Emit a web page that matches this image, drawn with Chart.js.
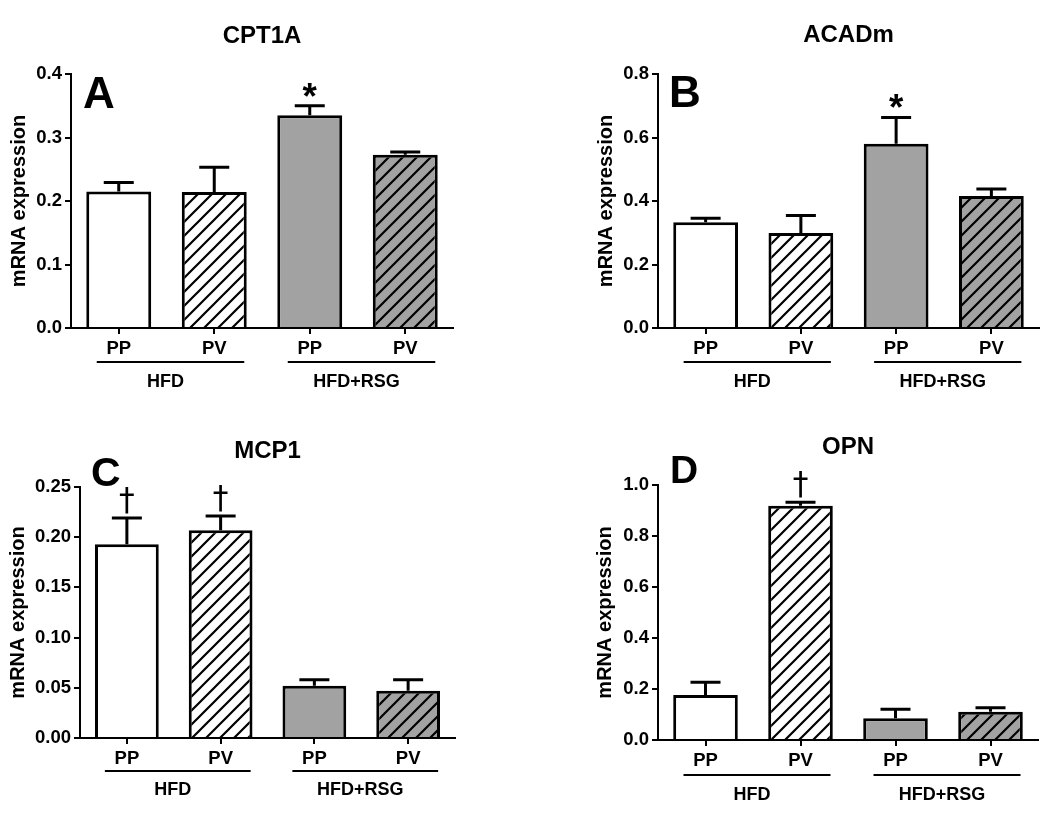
<!DOCTYPE html>
<html>
<head>
<meta charset="utf-8">
<title>mRNA expression</title>
<script src="https://cdn.jsdelivr.net/npm/chart.js@4.4.0/dist/chart.umd.min.js"></script>
<style>
    html, body { margin: 0; padding: 0; background: #fff; }
    #page { position: relative; width: 1050px; height: 823px; overflow: hidden; }
    #page canvas { position: absolute; }
</style>
</head>
<body>
<div id="page">
    <canvas id="cptChart" width="525" height="412" style="left:0;top:0"></canvas>
    <canvas id="acadChart" width="525" height="412" style="left:525px;top:0"></canvas>
    <canvas id="mcpChart" width="525" height="411" style="left:0;top:412px"></canvas>
    <canvas id="opnChart" width="525" height="411" style="left:525px;top:412px"></canvas>
</div>
<script>
// Data (bar = mean, sem = upper error bar length)
const categories = ['PP', 'PV', 'PP', 'PV'];
const groupLabels = ['HFD', 'HFD+RSG'];

const cptMeans = [0.215, 0.214, 0.335, 0.273];
const cptSem = [0.014, 0.039, 0.015, 0.004];
const cptTicks = ['0.0', '0.1', '0.2', '0.3', '0.4'];
const cptMarks = ['', '', '*', ''];

const acadMeans = [0.333, 0.299, 0.580, 0.416];
const acadSem = [0.013, 0.055, 0.083, 0.022];
const acadTicks = ['0.0', '0.2', '0.4', '0.6', '0.8'];
const acadMarks = ['', '', '*', ''];

const mcpMeans = [0.193, 0.207, 0.052, 0.047];
const mcpSem = [0.026, 0.014, 0.006, 0.011];
const mcpTicks = ['0.00', '0.05', '0.10', '0.15', '0.20', '0.25'];
const mcpMarks = ['†', '†', '', ''];

const opnMeans = [0.176, 0.919, 0.085, 0.111];
const opnSem = [0.050, 0.013, 0.036, 0.015];
const opnTicks = ['0.0', '0.2', '0.4', '0.6', '0.8', '1.0'];
const opnMarks = ['', '†', '', ''];

const FONT = "'Liberation Sans', Arial, Helvetica, sans-serif";
const GRAY = '#a2a2a2';

Chart.defaults.font.family = FONT;
Chart.defaults.font.weight = 'bold';
Chart.defaults.color = '#000';

// diagonal hatch used for the PV bars
function makeHatch(bg) {
    const size = 14;
    const tile = document.createElement('canvas');
    tile.width = size;
    tile.height = size;
    const t = tile.getContext('2d');
    t.fillStyle = bg;
    t.fillRect(0, 0, size, size);
    t.strokeStyle = '#000';
    t.lineWidth = 2.2;
    t.beginPath();
    t.moveTo(-2, size + 2); t.lineTo(size + 2, -2);
    t.moveTo(-2, 2); t.lineTo(2, -2);
    t.moveTo(size - 2, size + 2); t.lineTo(size + 2, size - 2);
    t.stroke();
    return t.createPattern(tile, 'repeat');
}

// error bars, significance marks, titles, panel letters and group lines
const panelDecor = {
    id: 'panelDecor',
    afterDatasetsDraw(chart, args, opts) {
        const ctx = chart.ctx;
        const x = chart.scales.x;
        const y = chart.scales.y;
        const means = chart.data.datasets[0].data;

        ctx.save();
        ctx.strokeStyle = '#000';
        ctx.fillStyle = '#000';
        ctx.lineWidth = 3;
        ctx.lineCap = 'butt';

        means.forEach((m, i) => {
            const cx = x.getPixelForValue(i);
            const yBar = y.getPixelForValue(m);
            const yErr = y.getPixelForValue(m + opts.sem[i]);

            ctx.beginPath();
            ctx.moveTo(cx, yBar);
            ctx.lineTo(cx, yErr);
            ctx.moveTo(cx - 15, yErr);
            ctx.lineTo(cx + 15, yErr);
            ctx.stroke();

            const mark = opts.marks[i];
            if (mark === '*') {
                drawGlyph(ctx, '*', FONT, 'bold', 14, cx, yErr - 16, 'center');
            } else if (mark === '†') {
                drawGlyph(ctx, '†', "'DejaVu Sans', sans-serif", 'normal', 26, cx, yErr - 4, 'bottom');
            }
        });
        ctx.restore();
    },
    afterDraw(chart, args, opts) {
        const ctx = chart.ctx;
        const area = chart.chartArea;
        const x = chart.scales.x;

        ctx.save();
        ctx.fillStyle = '#000';
        ctx.strokeStyle = '#000';

        // gene title
        ctx.font = 'bold 24px ' + FONT;
        ctx.textAlign = 'center';
        ctx.textBaseline = 'middle';
        ctx.fillText(opts.title, (area.left + area.right) / 2, opts.titleY);

        // panel letter
        ctx.font = 'bold ' + opts.letterSize + 'px ' + FONT;
        ctx.textAlign = 'left';
        ctx.textBaseline = 'alphabetic';
        ctx.fillText(opts.letter, opts.letterX, opts.letterBase);

        // treatment groups under the categories
        ctx.lineWidth = 2;
        ctx.font = 'bold 18px ' + FONT;
        ctx.textAlign = 'center';
        ctx.textBaseline = 'middle';
        groupLabels.forEach((label, g) => {
            const x0 = x.getPixelForValue(g * 2);
            const x1 = x.getPixelForValue(g * 2 + 1);
            const ly = area.bottom + opts.groupGap;
            ctx.beginPath();
            ctx.moveTo(x0 - 22, ly);
            ctx.lineTo(x1 + 30, ly);
            ctx.stroke();
            ctx.fillText(label, (x0 + x1) / 2 - 1, area.bottom + opts.labelGap);
        });
        ctx.restore();
    }
};

// draws a glyph scaled to a given ink height; anchor 'center' or 'bottom' at (px, py)
function drawGlyph(ctx, ch, family, weight, inkHeight, px, py, anchor) {
    ctx.font = weight + ' 100px ' + family;
    let m = ctx.measureText(ch);
    const size = 100 * inkHeight / (m.actualBoundingBoxAscent + m.actualBoundingBoxDescent);
    ctx.font = weight + ' ' + size.toFixed(1) + 'px ' + family;
    m = ctx.measureText(ch);
    ctx.textAlign = 'center';
    ctx.textBaseline = 'alphabetic';
    let base;
    if (anchor === 'center') {
        base = py - (m.actualBoundingBoxDescent - m.actualBoundingBoxAscent) / 2;
    } else {
        base = py - m.actualBoundingBoxDescent;
    }
    ctx.fillText(ch, px, base);
}

function createPanel(canvasId, panel) {
    const canvas = document.getElementById(canvasId);
    const box = panel.box;
    const tickLabels = panel.ticks;
    const yMax = parseFloat(tickLabels[tickLabels.length - 1]);

    return new Chart(canvas, {
        type: 'bar',
        data: {
            labels: categories,
            datasets: [{
                data: panel.means,
                backgroundColor: ['#fff', makeHatch('#fff'), GRAY, makeHatch(GRAY)],
                borderColor: '#000',
                borderWidth: 3,
                categoryPercentage: 0.68,
                barPercentage: 1
            }]
        },
        options: {
            responsive: false,
            animation: false,
            events: [],
            layout: {
                padding: { left: 0, top: box.top, right: canvas.width - box.right, bottom: 0 }
            },
            scales: {
                x: {
                    grid: {
                        display: true,
                        drawOnChartArea: false,
                        drawTicks: true,
                        tickLength: 6,
                        offset: false,
                        color: '#000',
                        lineWidth: 2
                    },
                    border: { display: true, color: '#000', width: 2 },
                    ticks: {
                        font: { size: 18.5, weight: 'bold' },
                        color: '#000',
                        padding: 4,
                        autoSkip: false,
                        maxRotation: 0
                    },
                    afterFit(scale) {
                        scale.height = canvas.height - box.bottom;
                    }
                },
                y: {
                    min: 0,
                    max: yMax,
                    grid: {
                        display: true,
                        drawOnChartArea: false,
                        drawTicks: true,
                        tickLength: 6,
                        color: '#000',
                        lineWidth: 2
                    },
                    border: { display: true, color: '#000', width: 2 },
                    ticks: {
                        font: { size: 18.5, weight: 'bold' },
                        color: '#000',
                        padding: 3,
                        callback: (value, index) => tickLabels[index]
                    },
                    afterBuildTicks(scale) {
                        scale.ticks = tickLabels.map(t => ({ value: parseFloat(t) }));
                    },
                    title: {
                        display: true,
                        text: 'mRNA expression',
                        font: { size: 20, weight: 'bold' },
                        color: '#000',
                        padding: { top: box.yTitleX - 12, bottom: 0 }
                    },
                    afterFit(scale) {
                        scale.width = box.left;
                    }
                }
            },
            plugins: {
                legend: { display: false },
                tooltip: { enabled: false },
                panelDecor: {
                    title: panel.title,
                    letter: panel.letter,
                    letterSize: box.letterSize,
                    letterX: box.letterX,
                    letterBase: box.letterBase,
                    titleY: box.titleY,
                    groupGap: box.groupGap,
                    labelGap: box.labelGap,
                    sem: panel.sem,
                    marks: panel.marks
                }
            }
        },
        plugins: [panelDecor]
    });
}

function initializeFigure() {
    createPanel('cptChart', {
        title: 'CPT1A', letter: 'A',
        means: cptMeans, sem: cptSem, ticks: cptTicks, marks: cptMarks,
        box: { left: 71, top: 74, right: 453, bottom: 328, yTitleX: 19.5,
               titleY: 36, letterX: 83, letterBase: 108, letterSize: 44, groupGap: 34, labelGap: 54 }
    });
    createPanel('acadChart', {
        title: 'ACADm', letter: 'B',
        means: acadMeans, sem: acadSem, ticks: acadTicks, marks: acadMarks,
        box: { left: 133, top: 74, right: 514, bottom: 328, yTitleX: 81,
               titleY: 35, letterX: 144, letterBase: 107, letterSize: 44, groupGap: 34, labelGap: 54 }
    });
    createPanel('mcpChart', {
        title: 'MCP1', letter: 'C',
        means: mcpMeans, sem: mcpSem, ticks: mcpTicks, marks: mcpMarks,
        box: { left: 80, top: 75, right: 455, bottom: 326, yTitleX: 18.5,
               titleY: 39, letterX: 91, letterBase: 74, letterSize: 41, groupGap: 33, labelGap: 52 }
    });
    createPanel('opnChart', {
        title: 'OPN', letter: 'D',
        means: opnMeans, sem: opnSem, ticks: opnTicks, marks: opnMarks,
        box: { left: 133, top: 73, right: 513, bottom: 328, yTitleX: 80.5,
               titleY: 35, letterX: 145, letterBase: 71, letterSize: 39, groupGap: 35, labelGap: 55 }
    });
}

document.addEventListener('DOMContentLoaded', initializeFigure);
</script>
</body>
</html>
